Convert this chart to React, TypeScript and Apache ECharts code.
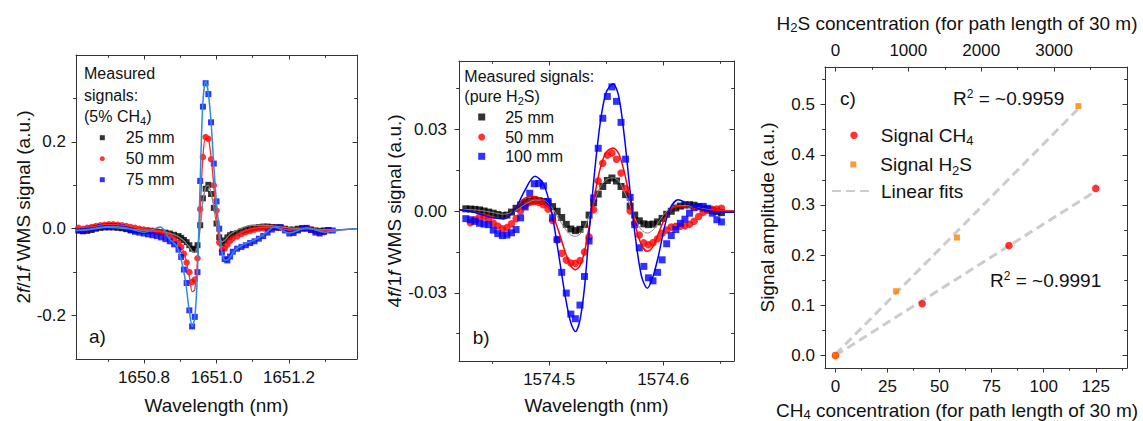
import { useEffect, useRef } from 'react';
import * as echarts from 'echarts';

const FONT = '"Liberation Sans", Arial, Helvetica, sans-serif';
const AXIS = '#333333';
const TEXT = '#111111';

// ---------------- Panel a) 2f/1f WMS, 5% CH4 ----------------
const aWavelength = [
  1650.619, 1650.631, 1650.643, 1650.655, 1650.667, 1650.679, 1650.691, 1650.703, 1650.715, 1650.727, 1650.739, 1650.751,
  1650.763, 1650.775, 1650.787, 1650.799, 1650.811, 1650.823, 1650.835, 1650.847, 1650.859, 1650.871, 1650.883,
  1650.895, 1650.9025, 1650.91, 1650.9175, 1650.925, 1650.9325, 1650.94, 1650.9475, 1650.955, 1650.9625, 1650.97,
  1650.9775, 1650.985, 1650.9925, 1651.0, 1651.0075, 1651.015, 1651.0225, 1651.03, 1651.0375, 1651.045,
  1651.057, 1651.069, 1651.081, 1651.093, 1651.105, 1651.117, 1651.129, 1651.141, 1651.153, 1651.165, 1651.177, 1651.189,
  1651.201, 1651.213, 1651.225, 1651.237, 1651.249, 1651.261, 1651.273, 1651.285, 1651.297, 1651.309, 1651.321,
];
const a25mm = [
  -0.004, -0.006, -0.005, -0.003, 0.0, 0.002, 0.003, 0.003, 0.003, 0.002, 0.001, -0.001,
  -0.003, -0.004, -0.004, -0.005, -0.005, -0.006, -0.007, -0.008, -0.009, -0.011, -0.014,
  -0.017, -0.021, -0.026, -0.031, -0.038, -0.046, -0.048, -0.038, 0.008, 0.07, 0.092,
  0.101, 0.08, 0.048, 0.012, -0.02, -0.034, -0.027, -0.02, -0.015, -0.012,
  -0.01, -0.006, -0.003, 0.0, 0.002, 0.004, 0.005, 0.005, 0.004, 0.003, 0.002, 0.0,
  -0.002, -0.002, 0.0, 0.001, 0.0, -0.002, -0.004, -0.005, -0.004, -0.003, null,
];
const a50mm = [
  0.002, 0.0, 0.002, 0.004, 0.006, 0.008, 0.009, 0.01, 0.01, 0.009, 0.008, 0.006,
  0.004, 0.002, 0.0, -0.002, -0.003, -0.004, -0.006, -0.008, -0.011, -0.016, -0.024,
  -0.033, -0.042, -0.058, -0.078, -0.1, -0.123, -0.117, -0.068, 0.045, 0.165, 0.211,
  0.207, 0.16, 0.1, 0.042, -0.032, -0.049, -0.046, -0.037, -0.028, -0.022,
  -0.018, -0.012, -0.008, -0.005, -0.002, 0.0, 0.001, 0.002, 0.003, 0.003, 0.002, -0.001,
  -0.004, -0.006, -0.003, 0.0, 0.001, -0.002, -0.006, -0.009, -0.008, null, null,
];
const a75mm = [
  -0.004, -0.004, -0.002, 0.0, 0.002, 0.004, 0.005, 0.006, 0.006, 0.005, 0.003, 0.0,
  -0.004, -0.007, -0.009, -0.011, -0.013, -0.015, -0.017, -0.02, -0.024, -0.029, -0.036,
  -0.048, -0.065, -0.094, -0.125, -0.188, -0.225, -0.203, -0.1, 0.11, 0.281, 0.335,
  0.31, 0.245, 0.15, 0.063, 0.0, -0.055, -0.07, -0.073, -0.064, -0.053,
  -0.046, -0.042, -0.038, -0.033, -0.029, -0.023, -0.017, -0.009, -0.002, 0.003, 0.004, -0.004,
  -0.011, -0.01, -0.004, 0.001, 0.002, -0.003, -0.009, -0.011, -0.007, -0.004, -0.004,
];
const aFitWavelength = [
  1650.612, 1650.65, 1650.7, 1650.75, 1650.8, 1650.845, 1650.87, 1650.89, 1650.905, 1650.915, 1650.925, 1650.933,
  1650.94, 1650.947, 1650.955, 1650.962, 1650.97, 1650.977, 1650.985, 1650.993, 1651.0, 1651.008, 1651.016, 1651.025,
  1651.035, 1651.05, 1651.07, 1651.1, 1651.13, 1651.16, 1651.2, 1651.25, 1651.3, 1651.35, 1651.388,
];
const a25mmFit = [
  -0.004, -0.002, 0.003, 0.0, -0.004, -0.006, -0.01, -0.016, -0.024, -0.032, -0.042, -0.052,
  -0.055, -0.042, 0.0, 0.06, 0.095, 0.1, 0.082, 0.048, 0.01, -0.02, -0.03, -0.025,
  -0.015, -0.006, 0.002, 0.008, 0.008, 0.006, 0.002, 0.0, -0.002, -0.002, 0.0,
];
const a50mmFit = [
  0.002, 0.004, 0.01, 0.007, -0.001, -0.006, -0.014, -0.026, -0.045, -0.07, -0.11, -0.145,
  -0.14, -0.08, 0.04, 0.16, 0.212, 0.21, 0.165, 0.095, 0.03, -0.03, -0.055, -0.05,
  -0.035, -0.02, -0.008, 0.0, 0.003, 0.003, -0.003, 0.0, -0.005, -0.002, 0.0,
];
const a75mmFit = [
  -0.004, -0.001, 0.005, 0.002, -0.008, 0.004, -0.024, -0.04, -0.08, -0.125, -0.19, -0.225,
  -0.205, -0.11, 0.11, 0.285, 0.34, 0.315, 0.245, 0.14, 0.06, -0.005, -0.058, -0.073,
  -0.068, -0.05, -0.038, -0.028, -0.014, 0.004, -0.01, 0.002, -0.008, -0.002, 0.0,
];
const aXLabels = [1650.8, 1651.0, 1651.2];
const aXMinor = [1650.7, 1650.9, 1651.1, 1651.3];
const aYLabels = [-0.2, 0.0, 0.2];
const aYMinor = [-0.1, 0.1, 0.3];

// ---------------- Panel b) 4f/1f WMS, pure H2S ----------------
const bWavelength = [
  1574.427, 1574.431, 1574.435, 1574.439, 1574.443, 1574.447, 1574.451, 1574.455, 1574.459, 1574.463,
  1574.467, 1574.471, 1574.475, 1574.479, 1574.483, 1574.487, 1574.491, 1574.495, 1574.499, 1574.503,
  1574.507, 1574.511, 1574.515, 1574.519, 1574.523, 1574.527, 1574.531, 1574.535, 1574.539, 1574.543,
  1574.547, 1574.551, 1574.555, 1574.559, 1574.563, 1574.567, 1574.571, 1574.575, 1574.579, 1574.583,
  1574.587, 1574.591, 1574.595, 1574.599, 1574.603, 1574.607, 1574.611, 1574.615, 1574.619, 1574.623,
  1574.627, 1574.631, 1574.635, 1574.639, 1574.643, 1574.647, 1574.651,
];
const b25mm = [
  0.0008, 0.0007, 0.0006, 0.0004, 0.0, -0.0004, -0.0008, -0.0013, -0.0017, -0.0015,
  -0.0004, 0.001, 0.0022, 0.0031, 0.0036, 0.0039, 0.0038, 0.0035, 0.0029, 0.0016,
  -0.0001, -0.0024, -0.0049, -0.0066, -0.0072, -0.0067, -0.0049, -0.0015, 0.003, 0.0062,
  0.009, 0.0112, 0.0121, 0.011, 0.009, 0.006, 0.0018, -0.0015, -0.0036, -0.0047,
  -0.005, -0.0048, -0.004, -0.0027, -0.0012, -0.0001, 0.0011, 0.0018, 0.0022, 0.0023,
  0.0021, 0.0016, 0.001, 0.0006, 0.0002, -0.0002, -0.0006,
];
const b50mm = [
  null, -0.0043, -0.0032, -0.0022, -0.0021, -0.0027, -0.0044, -0.0055, -0.0065, -0.0061,
  -0.0047, -0.0028, 0.0, 0.002, 0.0031, 0.0035, 0.0031, 0.0023, 0.0007, -0.0035,
  -0.0105, -0.0155, -0.018, -0.0191, -0.0192, -0.0182, -0.015, -0.0095, 0.0005, 0.011,
  0.0175, 0.0205, 0.0213, 0.019, 0.0139, 0.0082, 0.0, -0.0045, -0.0088, -0.0117,
  -0.0124, -0.0116, -0.0102, -0.0082, -0.007, -0.0059, -0.0056, -0.0056, -0.0054, -0.0049,
  -0.0038, -0.002, -0.0005, 0.0003, 0.0006, 0.0007, 0.001,
];
const b100mm = [
  -0.0028, -0.0032, -0.0038, -0.0045, -0.0048, -0.005, -0.007, -0.0083, -0.009, -0.0088,
  -0.008, -0.0068, -0.0025, 0.0015, 0.0065, 0.01, 0.0101, 0.0092, 0.0035, -0.0025,
  -0.0105, -0.0225, -0.0301, -0.0378, -0.0395, -0.0345, -0.024, -0.011, 0.0048, 0.023,
  0.034, 0.042, 0.0455, 0.0402, 0.0325, 0.019, 0.005, -0.005, -0.0135, -0.0203,
  -0.0245, -0.0256, -0.0225, -0.0179, -0.012, -0.009, -0.0068, -0.0045, -0.003, -0.0008,
  0.0012, 0.0016, 0.0017, 0.001, -0.0008, -0.0032, -0.004,
];
const bFitWavelength = [
  1574.421, 1574.43, 1574.44, 1574.45, 1574.46, 1574.47, 1574.478, 1574.4875, 1574.495, 1574.502,
  1574.508, 1574.514, 1574.519, 1574.523, 1574.527, 1574.531, 1574.535, 1574.54, 1574.545, 1574.55,
  1574.556, 1574.561, 1574.566, 1574.571, 1574.576, 1574.581, 1574.586, 1574.591, 1574.596, 1574.601,
  1574.606, 1574.613, 1574.62, 1574.63, 1574.64, 1574.65, 1574.662,
];
const b25mmFit = [
  0.0005, 0.0005, 0.0002, -0.0005, -0.0012, 0.0, 0.0022, 0.004, 0.004, 0.0015,
  -0.0025, -0.0065, -0.0088, -0.0093, -0.0085, -0.006, -0.002, 0.004, 0.009, 0.0115,
  0.0122, 0.011, 0.007, 0.002, -0.0035, -0.007, -0.0081, -0.007, -0.004, -0.001,
  0.001, 0.002, 0.002, 0.0012, 0.0005, 0.0002, 0.0,
];
const b50mmFit = [
  0.0005, 0.0, -0.001, -0.0022, -0.0028, 0.0005, 0.0045, 0.0053, 0.0035, -0.0005,
  -0.007, -0.015, -0.02, -0.0215, -0.02, -0.015, -0.006, 0.006, 0.016, 0.0215,
  0.0231, 0.021, 0.014, 0.004, -0.006, -0.0125, -0.0148, -0.013, -0.008, -0.003,
  0.0005, 0.0017, 0.0015, 0.0008, 0.0003, 0.0, 0.0,
];
const b100mmFit = [
  0.0005, 0.0, -0.0012, -0.0025, -0.0028, 0.0005, 0.007, 0.0127, 0.01, 0.0,
  -0.015, -0.031, -0.041, -0.0442, -0.04, -0.028, -0.008, 0.015, 0.033, 0.0435,
  0.0467, 0.042, 0.027, 0.007, -0.011, -0.024, -0.0283, -0.024, -0.016, -0.006,
  0.001, 0.0041, 0.003, 0.001, 0.0, -0.0005, -0.0005,
];
const bXLabels = [1574.5, 1574.6];
const bXMinor = [1574.45, 1574.55, 1574.65];
const bYLabels = [-0.03, 0.0, 0.03];
const bYMinor = [-0.045, -0.015, 0.015, 0.045];

// ---------------- Panel c) signal amplitude vs concentration ----------------
const ch4Concentration = [0, 41.67, 83.33, 125];
const ch4Amplitude = [0, 0.103, 0.219, 0.333];
const h2sConcentration = [0, 833, 1667, 3333];
const h2sAmplitude = [0, 0.128, 0.235, 0.497];
const ch4FitConcentration = [0, 124];
const ch4FitAmplitude = [0.0, 0.325];
const h2sFitConcentration = [0, 3320];
const h2sFitAmplitude = [0.002, 0.49];
const cXLabels = [0, 25, 50, 75, 100, 125];
const cXMinor = [12.5, 37.5, 62.5, 87.5, 112.5, 137.5];
const cTopLabels = [0, 1000, 2000, 3000];
const cTopMinor = [500, 1500, 2500, 3500];
const cYLabels = [0, 0.1, 0.2, 0.3, 0.4, 0.5];
const cYMinor = [0.05, 0.15, 0.25, 0.35, 0.45, 0.55];

// ---------------- helpers ----------------
const pairs = (xs: number[], ys: (number | null)[]) => {
  const out: number[][] = [];
  const n = Math.min(xs.length, ys.length);
  for (let i = 0; i < n; i++) {
    const y = ys[i];
    if (y !== null && y !== undefined) out.push([xs[i], y]);
  }
  return out;
};

const NAME_RICH = {
  s: { fontSize: 13, fontFamily: FONT, color: TEXT, lineHeight: 19, padding: [8, 0, 0, 0] },
  i: { fontSize: 19, fontFamily: FONT, color: TEXT, lineHeight: 19, fontStyle: 'italic' },
};

type AxOpts = {
  grid: number; pos: string; min: number; max: number; ticks: number[]; len: number; inside: boolean; line: boolean;
  labels?: number[]; fmt?: (v: number) => string; margin?: number; name?: string; gap?: number; namePad?: number[];
};
const ax = (p: AxOpts) => ({
  type: 'value',
  gridIndex: p.grid,
  position: p.pos,
  min: p.min,
  max: p.max,
  axisLine: { show: p.line, onZero: false, lineStyle: { color: AXIS, width: 1 } },
  axisTick: { show: true, inside: p.inside, length: p.len, customValues: p.ticks, lineStyle: { color: AXIS, width: 1 } },
  axisLabel: p.labels
    ? { show: true, customValues: p.labels, formatter: p.fmt, margin: p.margin, fontSize: 17, fontFamily: FONT, color: TEXT }
    : { show: false },
  splitLine: { show: false },
  minorTick: { show: false },
  name: p.name ?? '',
  nameLocation: 'middle',
  nameGap: p.gap ?? 0,
  nameTextStyle: { fontSize: 19, fontFamily: FONT, color: TEXT, lineHeight: 19, rich: NAME_RICH, padding: p.namePad ?? 0 },
});

const MAJ = 4.5;
const MIN = 2.8;
const f1 = (v: number) => v.toFixed(1);
const f2 = (v: number) => v.toFixed(2);
const f0 = (v: number) => String(Math.round(v));

const A = { xmin: 1650.612, xmax: 1651.388, ymin: -0.3, ymax: 0.4 };
const B = { xmin: 1574.421, xmax: 1574.662, ymin: -0.055, ymax: 0.055 };
const C = { xmin: -5, xmax: 140, tmin: -142.857, tmax: 4000, ymin: -0.025, ymax: 0.575 };

const xAxes = [
  // panel a main
  ax({ grid: 0, pos: 'bottom', min: A.xmin, max: A.xmax, ticks: aXLabels, len: MAJ, inside: false, line: true, labels: aXLabels, fmt: f1, margin: 10, name: 'Wavelength (nm)', gap: 37 }),
  ax({ grid: 0, pos: 'top', min: A.xmin, max: A.xmax, ticks: aXLabels, len: MAJ, inside: true, line: true }),
  // panel a minor
  ax({ grid: 1, pos: 'bottom', min: A.xmin, max: A.xmax, ticks: aXMinor, len: MIN, inside: false, line: false }),
  ax({ grid: 1, pos: 'top', min: A.xmin, max: A.xmax, ticks: aXMinor, len: MIN, inside: true, line: false }),
  // panel b main
  ax({ grid: 2, pos: 'bottom', min: B.xmin, max: B.xmax, ticks: bXLabels, len: MAJ, inside: false, line: true, labels: bXLabels, fmt: f1, margin: 10, name: 'Wavelength (nm)', gap: 35 }),
  ax({ grid: 2, pos: 'top', min: B.xmin, max: B.xmax, ticks: bXLabels, len: MAJ, inside: true, line: true }),
  // panel b minor
  ax({ grid: 3, pos: 'bottom', min: B.xmin, max: B.xmax, ticks: bXMinor, len: MIN, inside: false, line: false }),
  ax({ grid: 3, pos: 'top', min: B.xmin, max: B.xmax, ticks: bXMinor, len: MIN, inside: true, line: false }),
  // panel c main
  ax({ grid: 4, pos: 'bottom', min: C.xmin, max: C.xmax, ticks: cXLabels, len: MAJ, inside: false, line: true, labels: cXLabels, fmt: f0, margin: 10, name: 'CH{s|4} concentration (for path length of 30 m)', gap: 30, namePad: [0, 38, 0, 0] }),
  ax({ grid: 4, pos: 'top', min: C.tmin, max: C.tmax, ticks: cTopLabels, len: MAJ, inside: true, line: true, labels: cTopLabels, fmt: f0, margin: 8, name: 'H{s|2}S concentration (for path length of 30 m)', gap: 34, namePad: [0, 38, 0, 0] }),
  // panel c minor
  ax({ grid: 5, pos: 'bottom', min: C.xmin, max: C.xmax, ticks: cXMinor, len: MIN, inside: false, line: false }),
  ax({ grid: 5, pos: 'top', min: C.tmin, max: C.tmax, ticks: cTopMinor, len: MIN, inside: true, line: false }),
];

const yAxes = [
  ax({ grid: 0, pos: 'left', min: A.ymin, max: A.ymax, ticks: aYLabels, len: MAJ, inside: false, line: true, labels: aYLabels, fmt: f1, margin: 10, name: '2{i|f}/1{i|f} WMS signal (a.u.)', gap: 43 }),
  ax({ grid: 0, pos: 'right', min: A.ymin, max: A.ymax, ticks: aYLabels, len: MAJ, inside: true, line: true }),
  ax({ grid: 1, pos: 'left', min: A.ymin, max: A.ymax, ticks: aYMinor, len: MIN, inside: false, line: false }),
  ax({ grid: 1, pos: 'right', min: A.ymin, max: A.ymax, ticks: aYMinor, len: MIN, inside: true, line: false }),
  ax({ grid: 2, pos: 'left', min: B.ymin, max: B.ymax, ticks: bYLabels, len: MAJ, inside: false, line: true, labels: bYLabels, fmt: f2, margin: 12, name: '4{i|f}/1{i|f} WMS signal (a.u.)', gap: 55 }),
  ax({ grid: 2, pos: 'right', min: B.ymin, max: B.ymax, ticks: bYLabels, len: MAJ, inside: true, line: true }),
  ax({ grid: 3, pos: 'left', min: B.ymin, max: B.ymax, ticks: bYMinor, len: MIN, inside: false, line: false }),
  ax({ grid: 3, pos: 'right', min: B.ymin, max: B.ymax, ticks: bYMinor, len: MIN, inside: true, line: false }),
  ax({ grid: 4, pos: 'left', min: C.ymin, max: C.ymax, ticks: cYLabels, len: MAJ, inside: false, line: true, labels: cYLabels, fmt: f1, margin: 10, name: 'Signal amplitude (a.u.)', gap: 48 }),
  ax({ grid: 4, pos: 'right', min: C.ymin, max: C.ymax, ticks: cYLabels, len: MAJ, inside: true, line: true }),
  ax({ grid: 5, pos: 'left', min: C.ymin, max: C.ymax, ticks: cYMinor, len: MIN, inside: false, line: false }),
  ax({ grid: 5, pos: 'right', min: C.ymin, max: C.ymax, ticks: cYMinor, len: MIN, inside: true, line: false }),
];

const gA = { left: 76, top: 55, width: 281, height: 304 };
const gB = { left: 459, top: 61, width: 275, height: 300 };
const gC = { left: 825, top: 67, width: 302, height: 301 };

const scatter = (name: string, xi: number, yi: number, symbol: string, size: number, color: string, data: number[][]) => ({
  type: 'scatter', name, xAxisIndex: xi, yAxisIndex: yi, symbol, symbolSize: size,
  itemStyle: { color }, data, z: 3,
});
const fitLine = (name: string, xi: number, yi: number, color: string, width: number, data: number[][]) => ({
  type: 'line', name, xAxisIndex: xi, yAxisIndex: yi, symbol: 'none', showSymbol: false, smooth: 0.3,
  lineStyle: { color, width }, data, z: 4,
});

const DASH = { type: [9, 5], width: 3, color: '#cccccc' };

const series = [
  // panel a
  scatter('25 mm', 0, 0, 'rect', 6, '#000000', pairs(aWavelength, a25mm)),
  scatter('50 mm', 0, 0, 'circle', 6.5, '#ff0000', pairs(aWavelength, a50mm)),
  scatter('75 mm', 0, 0, 'rect', 6, '#0000ff', pairs(aWavelength, a75mm)),
  fitLine('fit a 25 mm', 0, 0, '#808080', 1.3, pairs(aFitWavelength, a25mmFit)),
  fitLine('fit a 50 mm', 0, 0, '#ff2a2a', 1.3, pairs(aFitWavelength, a50mmFit)),
  fitLine('fit a 75 mm', 0, 0, '#2b8be6', 1.5, pairs(aFitWavelength, a75mmFit)),
  // panel b
  scatter('25 mm', 4, 4, 'rect', 7, '#000000', pairs(bWavelength, b25mm)),
  scatter('50 mm', 4, 4, 'circle', 7.5, '#ff0000', pairs(bWavelength, b50mm)),
  scatter('100 mm', 4, 4, 'rect', 7, '#0000ff', pairs(bWavelength, b100mm)),
  fitLine('fit b 25 mm', 4, 4, '#8a8a8a', 1, pairs(bFitWavelength, b25mmFit)),
  fitLine('fit b 50 mm', 4, 4, '#ff0000', 1.5, pairs(bFitWavelength, b50mmFit)),
  fitLine('fit b 100 mm', 4, 4, '#0000ff', 1.5, pairs(bFitWavelength, b100mmFit)),
  // panel c
  { type: 'line', name: 'Linear fits', xAxisIndex: 8, yAxisIndex: 8, symbol: 'none', showSymbol: false, lineStyle: DASH, itemStyle: { color: '#cccccc' }, data: pairs(ch4FitConcentration, ch4FitAmplitude), z: 2 },
  { type: 'line', name: 'Linear fits', xAxisIndex: 9, yAxisIndex: 8, symbol: 'none', showSymbol: false, lineStyle: DASH, itemStyle: { color: '#cccccc' }, data: pairs(h2sFitConcentration, h2sFitAmplitude), z: 2 },
  scatter('Signal CH4', 8, 8, 'circle', 7.5, '#ff0000', pairs(ch4Concentration, ch4Amplitude)),
  scatter('Signal H2S', 9, 8, 'rect', 6, '#ff8000', pairs(h2sConcentration, h2sAmplitude)),
];

const legendLabel = (n: string) => {
  if (n === 'Signal CH4') return '{g|}{t|Signal CH}{s|4}';
  if (n === 'Signal H2S') return '{g|}{t|Signal H}{s|2}{t|S}';
  return '{g|}{t|' + n + '}';
};
const legendItem = (name: string, cx: number, cy: number, w: number, h: number, gap: number, fs: number, extra: any = {}) => {
  const lh = fs + 6;
  return {
    show: true,
    data: [{ name, ...extra }],
    left: cx - w / 2,
    top: cy - lh / 2,
    orient: 'vertical',
    padding: 0,
    itemGap: 0,
    itemWidth: w,
    itemHeight: h,
    selectedMode: false,
    formatter: legendLabel,
    textStyle: {
      fontSize: fs, fontFamily: FONT, color: TEXT,
      rich: {
        g: { width: gap, lineHeight: lh },
        t: { fontSize: fs, fontFamily: FONT, color: TEXT, lineHeight: lh },
        s: { fontSize: Math.round(fs * 0.68), fontFamily: FONT, color: TEXT, lineHeight: lh, padding: [Math.round(fs * 0.58), 0, 0, 0] },
      },
    },
  };
};

const legends = [
  legendItem('25 mm', 102.3, 140.7, 5, 5, 16, 16),
  legendItem('50 mm', 102.3, 161.7, 5, 5, 16, 16),
  legendItem('75 mm', 102.3, 182.7, 5, 5, 16, 16),
  legendItem('25 mm', 481.7, 120, 7, 7, 15, 16),
  legendItem('50 mm', 481.7, 140, 7, 7, 15, 16),
  legendItem('100 mm', 481.7, 159.3, 7, 7, 15, 16),
  legendItem('Signal CH4', 854, 135.7, 7.5, 7.5, 18, 19),
  legendItem('Signal H2S', 853.3, 165, 6, 6, 19, 19),
  legendItem('Linear fits', 852, 194, 42, 3, 2, 19, { itemStyle: { opacity: 0 } }),
];

const SUB16 = { fontSize: 11, fontFamily: FONT, fill: TEXT, padding: [9, 0, 0, 0] };
const SUP19 = { fontSize: 12, fontFamily: FONT, fill: TEXT, padding: [0, 0, 9, 0] };
const txt = (x: number, y: number, text: string, fontSize: number) => ({
  type: 'text',
  x,
  y,
  silent: true,
  style: {
    text,
    fontSize,
    fontFamily: FONT,
    fill: TEXT,
    align: 'left',
    verticalAlign: 'middle',
    textAlign: 'left',
    textVerticalAlign: 'middle',
    rich: { s: SUB16, p: SUP19 },
  },
});

const graphics = [
  txt(84, 73.3, 'Measured', 16),
  txt(84, 95, 'signals:', 16),
  txt(84, 116.7, '(5% CH{s|4})', 16),
  txt(89, 336.7, 'a)', 19),
  txt(464.3, 76.7, 'Measured signals:', 16),
  txt(464.3, 96.7, '(pure H{s|2}S)', 16),
  txt(472.7, 337.7, 'b)', 19),
  txt(840, 98, 'c)', 19),
  txt(953, 98, 'R{p|2} = ~0.9959', 19),
  txt(990, 280, 'R{p|2} = ~0.9991', 19),
];

const option = {
  animation: false,
  backgroundColor: '#ffffff',
  textStyle: { fontFamily: FONT },
  grid: [gA, gA, gB, gB, gC, gC].map((g) => ({ ...g, containLabel: false, outerBoundsMode: 'none', show: false })),
  xAxis: xAxes,
  yAxis: yAxes,
  legend: legends,
  series,
  graphic: graphics,
};

export default function App() {
  const ref = useRef<HTMLDivElement>(null);
  useEffect(() => {
    document.body.style.margin = '0';
    const chart = echarts.init(ref.current as HTMLDivElement, null, { renderer: 'svg', width: 1143, height: 421 });
    chart.setOption(option as any);
    return () => chart.dispose();
  }, []);
  return <div ref={ref} style={{ position: 'absolute', left: 0, top: 0, width: 1143, height: 421, background: '#fff' }} />;
}
